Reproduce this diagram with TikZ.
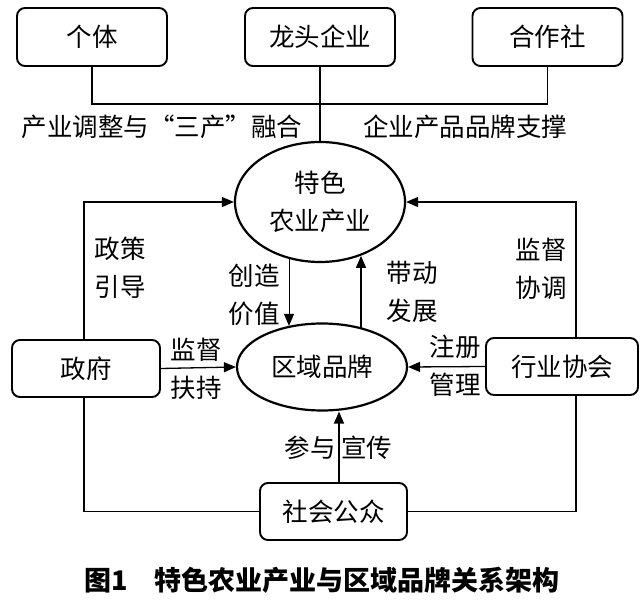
\documentclass[tikz,border=0pt]{standalone}
\usepackage{fontspec}
\setmainfont{Noto Sans CJK SC}
\usetikzlibrary{arrows.meta,shapes.geometric}
\newcommand\myfont{\fontsize{25.5}{38}\selectfont}
\newcommand\mycapfont{\fontsize{27}{32}\selectfont\bfseries}
\tikzset{
  box/.style={draw,line width=1.9pt,rounded corners=8pt,minimum width=150pt,minimum height=58pt,inner sep=0pt,font=\myfont},
  ell/.style={draw,ellipse,line width=2.2pt,inner sep=0pt,font=\myfont,align=center},
  conn/.style={line width=1.3pt},
  arr/.style={conn,-{Triangle[length=12pt,width=10pt]}},
  lbl/.style={font=\myfont,align=center,inner sep=0pt}
}
\begin{document}
\begin{tikzpicture}[x=1pt,y=-1pt]
\fill[white] (0,0) rectangle (640,601);
\useasboundingbox (0,0) rectangle (640,601);
% top boxes
\node[box] (geti) at (92,37) {个体};
\node[box] (longtou) at (320,37) {龙头企业};
\node[box] (hezuo) at (547.5,37) {合作社};
% ellipses
\node[ell,minimum width=170pt,minimum height=120pt] (tese) at (320,202) {特色\\农业产业};
\node[ell,minimum width=170pt,minimum height=87pt] (quyu) at (322,367) {区域品牌};
% side boxes
\node[box,minimum width=148pt,minimum height=57pt] (zhengfu) at (86,368.5) {政府};
\node[box,minimum width=152pt,minimum height=57pt] (hangye) at (562,366.5) {行业协会};
\node[box,minimum width=147pt,minimum height=57pt] (shehui) at (333.5,511.5) {社会公众};
% top connectors
\coordinate (junc) at (320,104);
\draw[conn] (geti.south) -- (geti.south |- junc) -- (hezuo.south |- junc) -- (hezuo.south);
\draw[conn] (longtou.south) -- (tese.north);
% side arrows to top ellipse
\coordinate (hn) at ([xshift=14pt]hangye.north);
\coordinate (hs) at ([xshift=14pt]hangye.south);
\draw[arr] ([xshift=-2pt]zhengfu.north) |- (tese.west);
\draw[arr] (hn) |- (tese.east);
% horizontal arrows to bottom ellipse
\draw[arr] (zhengfu.east) -- (quyu.west);
\draw[arr] (hangye.west) -- (quyu.east);
% between ellipses
\coordinate (xd) at (289,0);
\coordinate (xu) at (361,0);
\draw[arr,line width=1pt] (xd |- tese.241) -- (xd |- quyu.129.5);
\draw[arr] (xu |- quyu.44.7) -- (xu |- tese.307.9);
% bottom
\draw[conn] ([xshift=-2pt]zhengfu.south) |- (shehui.west);
\draw[conn] (hs) |- (shehui.east);
\coordinate (s1) at ([xshift=5.5pt]shehui.north);
\draw[arr] (s1) -- (s1 |- quyu.south);
% labels
\node[lbl] (l1) at (162,127) {产业调整与“三产”融合};
\node[lbl] (l2) at (465,127) {企业产品品牌支撑};
\node[lbl] (l3) at (120,267.5) {政策\\引导};
\node[lbl] (l4) at (541,269) {监督\\协调};
\node[lbl] (l5) at (254,294.5) {创造\\价值};
\node[lbl] (l6) at (412,291.5) {带动\\发展};
\node[lbl] (l7) at (196,369) {监督\\扶持};
\node[lbl] (l8) at (455,366) {注册\\管理};
\node[lbl] (l9) at (338.5,448) {参与\hspace{6pt}宣传};
\node[lbl,font=\mycapfont] (cap) at (322,580) {图1\quad 特色农业产业与区域品牌关系架构};
\end{tikzpicture}
\end{document}
